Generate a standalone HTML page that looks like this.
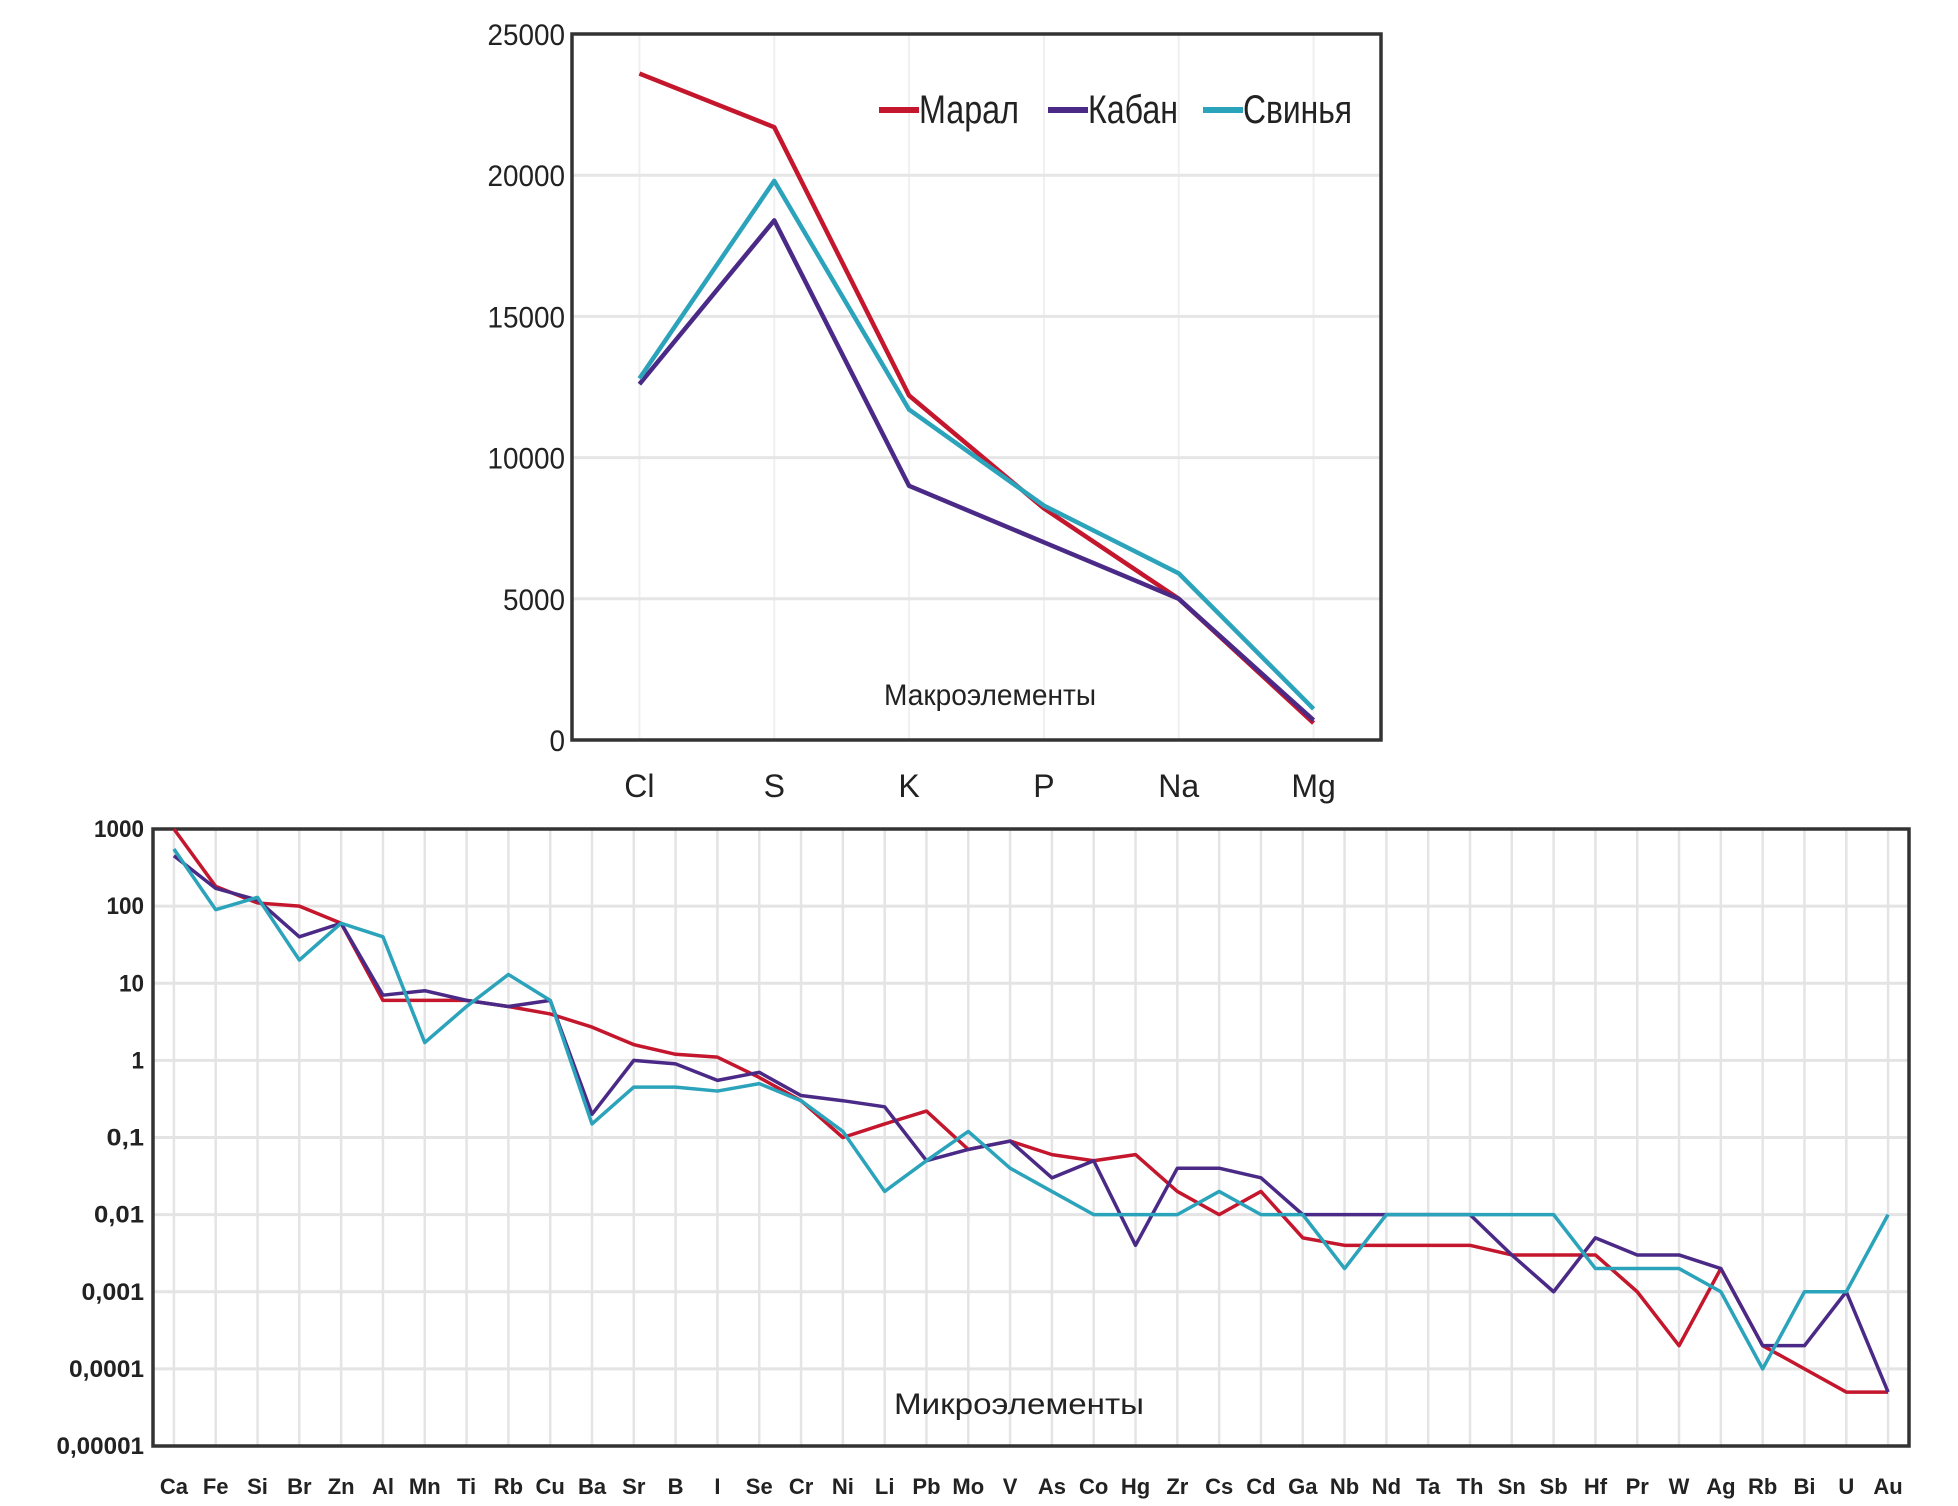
<!DOCTYPE html>
<html><head><meta charset="utf-8">
<style>
html,body{margin:0;padding:0;background:#fff;}
svg{display:block;}
text{font-family:"Liberation Sans Narrow","Liberation Sans",sans-serif;fill:#222;}
</style></head>
<body>
<svg id="chart" width="1958" height="1506" viewBox="0 0 1958 1506" xmlns="http://www.w3.org/2000/svg">
<g id="top"></g>
<g id="bot"></g>
</svg>
<script>
// ---- Top chart data (macroelements) ----
const macroCats = ["Cl","S","K","P","Na","Mg"];
const macroMaral = [23600,21700,12200,8200,5000,600];
const macroKaban = [12600,18400,9000,7000,5000,700];
const macroSvinya = [12800,19800,11700,8300,5900,1100];
const macroTicks = [0,5000,10000,15000,20000,25000];

// ---- Bottom chart data (microelements, log scale) ----
const microCats = ["Ca","Fe","Si","Br","Zn","Al","Mn","Ti","Rb","Cu","Ba","Sr","B","I","Se","Cr","Ni","Li","Pb","Mo","V","As","Co","Hg","Zr","Cs","Cd","Ga","Nb","Nd","Ta","Th","Sn","Sb","Hf","Pr","W","Ag","Rb","Bi","U","Au"];
const microMaral = [1000,180,110,100,60,6,6,6,5,4,2.7,1.6,1.2,1.1,0.6,0.3,0.1,0.15,0.22,0.07,0.09,0.06,0.05,0.06,0.02,0.01,0.02,0.005,0.004,0.004,0.004,0.004,0.003,0.003,0.003,0.001,0.0002,0.002,0.0002,0.0001,0.00005,0.00005];
const microKaban = [450,170,120,40,60,7,8,6,5,6,0.2,1,0.9,0.55,0.7,0.35,0.3,0.25,0.05,0.07,0.09,0.03,0.05,0.004,0.04,0.04,0.03,0.01,0.01,0.01,0.01,0.01,0.003,0.001,0.005,0.003,0.003,0.002,0.0002,0.0002,0.001,0.00005];
const microSvinya = [550,90,130,20,60,40,1.7,5,13,6,0.15,0.45,0.45,0.4,0.5,0.3,0.12,0.02,0.05,0.12,0.04,0.02,0.01,0.01,0.01,0.02,0.01,0.01,0.002,0.01,0.01,0.01,0.01,0.01,0.002,0.002,0.002,0.001,0.0001,0.001,0.001,0.01];
const microTicks = ["1000","100","10","1","0,1","0,01","0,001","0,0001","0,00001"];
const microTickVals = [1000,100,10,1,0.1,0.01,0.001,0.0001,0.00001];

const seriesNames = ["Марал","Кабан","Свинья"];
const colors = ["#c4162c","#4a2a86","#2ba3bb"];
const NS = "http://www.w3.org/2000/svg";
function mk(tag, attrs, parent){const e=document.createElementNS(NS,tag);for(const k in attrs)e.setAttribute(k,attrs[k]);parent.appendChild(e);return e;}

// ---- Top chart ----
(function(){
  const g=document.getElementById('top');
  const L=572,R=1381,T=34,B=740;
  const bw=(R-L)/macroCats.length;
  const x=i=>L+bw*(i+0.5);
  const y=v=>B-(v/25000)*(B-T);
  macroCats.forEach((c,i)=>{
    const ln=mk('line',{x1:x(i),x2:x(i),y1:T,y2:B,stroke:'#f0f0f0','stroke-width':2},g);
    
    
    const t=mk('text',{x:x(i),y:797,'text-anchor':'middle','font-size':32},g);
    t.textContent=c;
    
    
  });
  macroTicks.forEach(v=>{
    if(v>0&&v<25000){const ln=mk('line',{x1:L,x2:R,y1:y(v),y2:y(v),stroke:'#e6e6e6','stroke-width':3},g);
    
    }
    const t=mk('text',{x:565,y:y(v)+11,'text-anchor':'end','font-size':30,textLength:String(v).length*15.5,lengthAdjust:'spacingAndGlyphs'},g);
    t.textContent=v;
    
    
  });
  const fr=mk('rect',{x:L,y:T,width:R-L,height:B-T,fill:'none',stroke:'#333','stroke-width':3.5},g);
  
  
  [macroMaral,macroKaban,macroSvinya].forEach((s,si)=>{
    const p=mk('polyline',{points:s.map((v,i)=>x(i)+','+y(v)).join(' '),fill:'none',stroke:colors[si],'stroke-width':4.5,'stroke-linejoin':'round'},g);
    
    
  });
  const lx=[879,1048,1203];
  const lw=[100,90,109];
  seriesNames.forEach((n,i)=>{
    const lg=mk('g',{},g);
    
    
    mk('line',{x1:lx[i],x2:lx[i]+40,y1:110,y2:110,stroke:colors[i],'stroke-width':6},lg);
    const t=mk('text',{x:lx[i]+40,y:123,'font-size':40,textLength:lw[i],lengthAdjust:'spacingAndGlyphs'},lg);
    t.textContent=n;
  });
  const at=mk('text',{x:990,y:705,'text-anchor':'middle','font-size':30,fill:'#333',textLength:212,lengthAdjust:'spacingAndGlyphs'},g);
  at.textContent='Макроэлементы';
  
  
})();

// ---- Bottom chart ----
(function(){
  const g=document.getElementById('bot');
  const L=153,R=1909,T=829,B=1446;
  const bw=(R-L)/microCats.length;
  const x=i=>L+bw*(i+0.5);
  const y=v=>T+(3-Math.log10(v))*(B-T)/8;
  microCats.forEach((c,i)=>{
    const ln=mk('line',{x1:x(i),x2:x(i),y1:T,y2:B,stroke:'#e4e4e4','stroke-width':2.5},g);
    
    
    const t=mk('text',{x:x(i),y:1494,'text-anchor':'middle','font-size':22,'font-weight':'bold',fill:'#333'},g);
    t.textContent=c;
    
    
  });
  microTickVals.forEach((v,i)=>{
    const ln=mk('line',{x1:L,x2:R,y1:y(v),y2:y(v),stroke:'#e4e4e4','stroke-width':3},g);
    
    
    const t=mk('text',{x:144,y:y(v)+8,'text-anchor':'end','font-size':24,'font-weight':'bold',fill:'#333',textLength:microTicks[i].length*12.5,lengthAdjust:'spacingAndGlyphs'},g);
    t.textContent=microTicks[i];
    
    
  });
  const fr=mk('rect',{x:L,y:T,width:R-L,height:B-T,fill:'none',stroke:'#333','stroke-width':3.5},g);
  
  
  [microMaral,microKaban,microSvinya].forEach((s,si)=>{
    const p=mk('polyline',{points:s.map((v,i)=>x(i)+','+y(v)).join(' '),fill:'none',stroke:colors[si],'stroke-width':3.5,'stroke-linejoin':'round'},g);
    
    
  });
  const at=mk('text',{x:1019,y:1414,'text-anchor':'middle','font-size':30,fill:'#333',textLength:250,lengthAdjust:'spacingAndGlyphs'},g);
  at.textContent='Микроэлементы';
  
  
})();
</script>
</body></html>
